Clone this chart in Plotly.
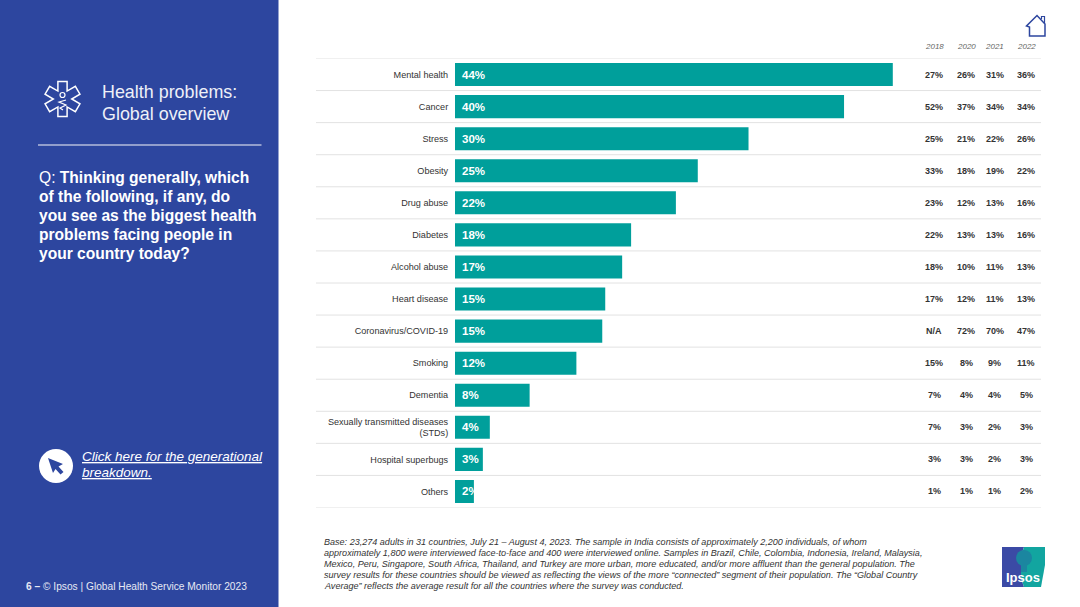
import math
import plotly.graph_objects as go

W, H = 1080, 607
FONT = "Liberation Sans"
BLUE = "#2d469f"
TEAL = "#009f9b"

categories = ["Mental health", "Cancer", "Stress", "Obesity", "Drug abuse", "Diabetes", "Alcohol abuse",
              "Heart disease", "Coronavirus/COVID-19", "Smoking", "Dementia",
              "Sexually transmitted diseases<br>(STDs)", "Hospital superbugs", "Others"]
# bar lengths as drawn in the slide, they differ slightly from the printed labels
bar_values = [44, 39.1, 29.5, 24.4, 22.2, 17.7, 16.8, 15.1, 14.8, 12.2, 7.5, 3.5, 2.8, 1.9]
bar_labels = ["44%", "40%", "30%", "25%", "22%", "18%", "17%", "15%", "15%", "12%", "8%", "4%", "3%", "2%"]

years = ["2018", "2020", "2021", "2022"]
values_2018 = ["27%", "52%", "25%", "33%", "23%", "22%", "18%", "17%", "N/A", "15%", "7%", "7%", "3%", "1%"]
values_2020 = ["26%", "37%", "21%", "18%", "12%", "13%", "10%", "12%", "72%", "8%", "4%", "3%", "3%", "1%"]
values_2021 = ["31%", "34%", "22%", "19%", "13%", "13%", "11%", "11%", "70%", "9%", "4%", "2%", "2%", "1%"]
values_2022 = ["36%", "34%", "26%", "22%", "16%", "16%", "13%", "13%", "47%", "11%", "5%", "3%", "3%", "2%"]
year_values = [values_2018, values_2020, values_2021, values_2022]

footnote = [
    "Base: 23,274 adults in 31 countries, July 21 – August 4, 2023. The sample in India consists of approximately 2,200 individuals, of whom",
    "approximately 1,800 were interviewed face-to-face and 400 were interviewed online. Samples in Brazil, Chile, Colombia, Indonesia, Ireland, Malaysia,",
    "Mexico, Peru, Singapore, South Africa, Thailand, and Turkey are more urban, more educated, and/or more affluent than the general population. The",
    "survey results for these countries should be viewed as reflecting the views of the more “connected” segment of their population. The “Global Country",
    "Average” reflects the average result for all the countries where the survey was conducted.",
]
question = ["Q: <b>Thinking generally, which</b>", "<b>of the following, if any, do</b>", "<b>you see as the biggest health</b>",
            "<b>problems facing people in</b>", "<b>your country today?</b>"]


def px(x):
    return x / W


def py(y):
    return 1 - y / H


def path(points, close=True):
    s = "M" + " L".join(f"{px(x):.5f},{py(y):.5f}" for x, y in points)
    return s + (" Z" if close else "")


def rect(x0, y0, x1, y1, color):
    return dict(type="rect", xref="paper", yref="paper", x0=px(x0), x1=px(x1), y0=py(y0), y1=py(y1),
                fillcolor=color, line_width=0, layer="below")


def circle(cx, cy, r, fill, line=None, lw=0):
    return dict(type="circle", xref="paper", yref="paper", x0=px(cx - r), x1=px(cx + r), y0=py(cy - r), y1=py(cy + r),
                fillcolor=fill, line=dict(color=line or fill, width=lw))


def poly(points, fill=None, line=None, lw=0, close=True):
    return dict(type="path", xref="paper", yref="paper", path=path(points, close),
                fillcolor=fill or "rgba(0,0,0,0)", line=dict(color=line or "rgba(0,0,0,0)", width=lw))


def label(x, y, text, size, color, anchor="left", yanchor="middle"):
    # annotations carry about 2px of padding, take it off for left aligned text
    if anchor == "left":
        x -= 2
    return dict(xref="paper", yref="paper", x=px(x), y=py(y), text=text, showarrow=False, xanchor=anchor,
                yanchor=yanchor, align=anchor, font=dict(family=FONT, size=size, color=color))


def star_points(cx, cy, r, w):
    pts = []
    for k in range(6):
        a = math.radians(60 * k)
        for dx, dy in ((-w, -r), (w, -r)):
            pts.append((cx + dx * math.cos(a) - dy * math.sin(a), cy + dx * math.sin(a) + dy * math.cos(a)))
        b = a + math.radians(30)
        pts.append((cx + 2 * w * math.sin(b), cy - 2 * w * math.cos(b)))
    return pts


shapes = [rect(0, 0, 278.5, H, BLUE)]
shapes.append(dict(type="line", xref="paper", yref="paper", x0=px(38), x1=px(261.5), y0=py(145), y1=py(145),
                   line=dict(color="#b4bcdb", width=1.5)))

# star of life icon
shapes.append(poly(star_points(62.5, 99, 17.5, 4.6), line="white", lw=1.5))
shapes.append(circle(62.5, 95, 2.5, BLUE, "white", 1.2))
shapes.append(poly([(66, 100), (59, 102), (66, 105), (60, 108), (63, 110)], line="white", lw=1.2, close=False))

# cursor button
shapes.append(circle(56, 466, 17, "white"))
shapes.append(poly([(48, 458), (63, 464), (58.5, 466.5), (63.5, 472), (60.5, 474.5), (55.5, 469), (53, 473)], fill=BLUE))

# home icon
shapes.append(poly([(1029.5, 27), (1029.5, 36), (1045, 36), (1045, 24), (1037, 15.5), (1026.5, 26)], line=BLUE, lw=1.5))
shapes.append(poly([(1041.5, 19), (1041.5, 16.5), (1044.5, 16.5), (1044.5, 23)], line=BLUE, lw=1.2, close=False))

# row separators, taken from the category axis
for i in range(-1, len(categories)):
    shapes.append(dict(type="line", xref="paper", yref="y", x0=px(316), x1=px(1041), y0=i + 0.5, y1=i + 0.5,
                       line=dict(color="#e2e2e2", width=1), layer="below"))

# Ipsos logo
shapes.append(poly([(1002, 547), (1024, 547), (1021, 556), (1021, 578), (1024, 587), (1002, 587)], fill="#3b4aa5"))
shapes.append(poly([(1024, 547), (1045, 547), (1045, 565), (1041, 587), (1024, 587), (1021, 578), (1021, 556)], fill="#12a5a0"))
shapes.append(dict(type="circle", xref="paper", yref="paper", x0=px(1016), x1=px(1032), y0=py(550), y1=py(566),
                   fillcolor="#1b86a0", line_width=0))
shapes.append(poly([(1021, 564), (1027, 564), (1027, 572), (1021, 572)], fill="#1b86a0"))

annotations = [label(102, 92, "Health problems:", 17.9, "#eef0f8"), label(102, 114, "Global overview", 17.9, "#eef0f8")]
for i, line in enumerate(question):
    annotations.append(label(38.5, 177.5 + i * 19, line, 15.6, "white"))
annotations.append(label(82, 456.5, "<i><u>Click here for the generational</u></i>", 13.5, "white"))
annotations.append(label(82, 472.5, "<i><u>breakdown.</u></i>", 13.5, "white"))
annotations.append(label(26, 586, "<b>6 –</b> © Ipsos | Global Health Service Monitor 2023", 10.2, "#e6e9f4"))
for i, line in enumerate(footnote):
    annotations.append(label(324, 542 + i * 11, f"<i>{line}</i>", 9.05, "#333333"))
annotations.append(label(1023, 577.5, "<b>Ipsos</b>", 13, "white", anchor="center"))

# printed percentages inside the bars
for cat, txt in zip(categories, bar_labels):
    annotations.append(dict(x=0, y=cat, xref="x", yref="y", text=f"<b>{txt}</b>", showarrow=False, xanchor="left",
                            xshift=5, font=dict(family=FONT, size=11.5, color="white")))

# year columns on the right
column_x = [934, 966, 994.5, 1026]
for x, year, vals in zip(column_x, years, year_values):
    annotations.append(label(x, 46, f"<i>{year}</i>", 8, "#666666", anchor="center"))
    for cat, v in zip(categories, vals):
        annotations.append(dict(x=px(x), y=cat, xref="paper", yref="y", text=f"<b>{v}</b>", showarrow=False,
                                xanchor="center", font=dict(family=FONT, size=9, color="#333333")))

fig = go.Figure(go.Bar(x=bar_values, y=categories, orientation="h", width=0.72, marker=dict(color=TEAL, line_width=0),
                       hoverinfo="skip"))
fig.update_layout(
    width=W, height=H, margin=dict(l=0, r=0, t=0, b=0), paper_bgcolor="white", plot_bgcolor="rgba(0,0,0,0)",
    showlegend=False, shapes=shapes, annotations=annotations,
    xaxis=dict(domain=[px(455), px(1041)], range=[0, (1041 - 455) / 9.95], visible=False, fixedrange=True),
    yaxis=dict(domain=[py(507.5), py(58.5)], range=[len(categories) - 0.5, -0.5], type="category",
               categoryorder="array", categoryarray=categories, showgrid=False, zeroline=False, showline=False,
               ticks="outside", ticklen=4, tickcolor="rgba(0,0,0,0)", fixedrange=True,
               tickfont=dict(family=FONT, size=9.1, color="#333333")),
)
fig.write_html("out.html", config=dict(displayModeBar=False),
               post_script="document.body.style.margin='0';document.body.style.overflow='hidden';")
